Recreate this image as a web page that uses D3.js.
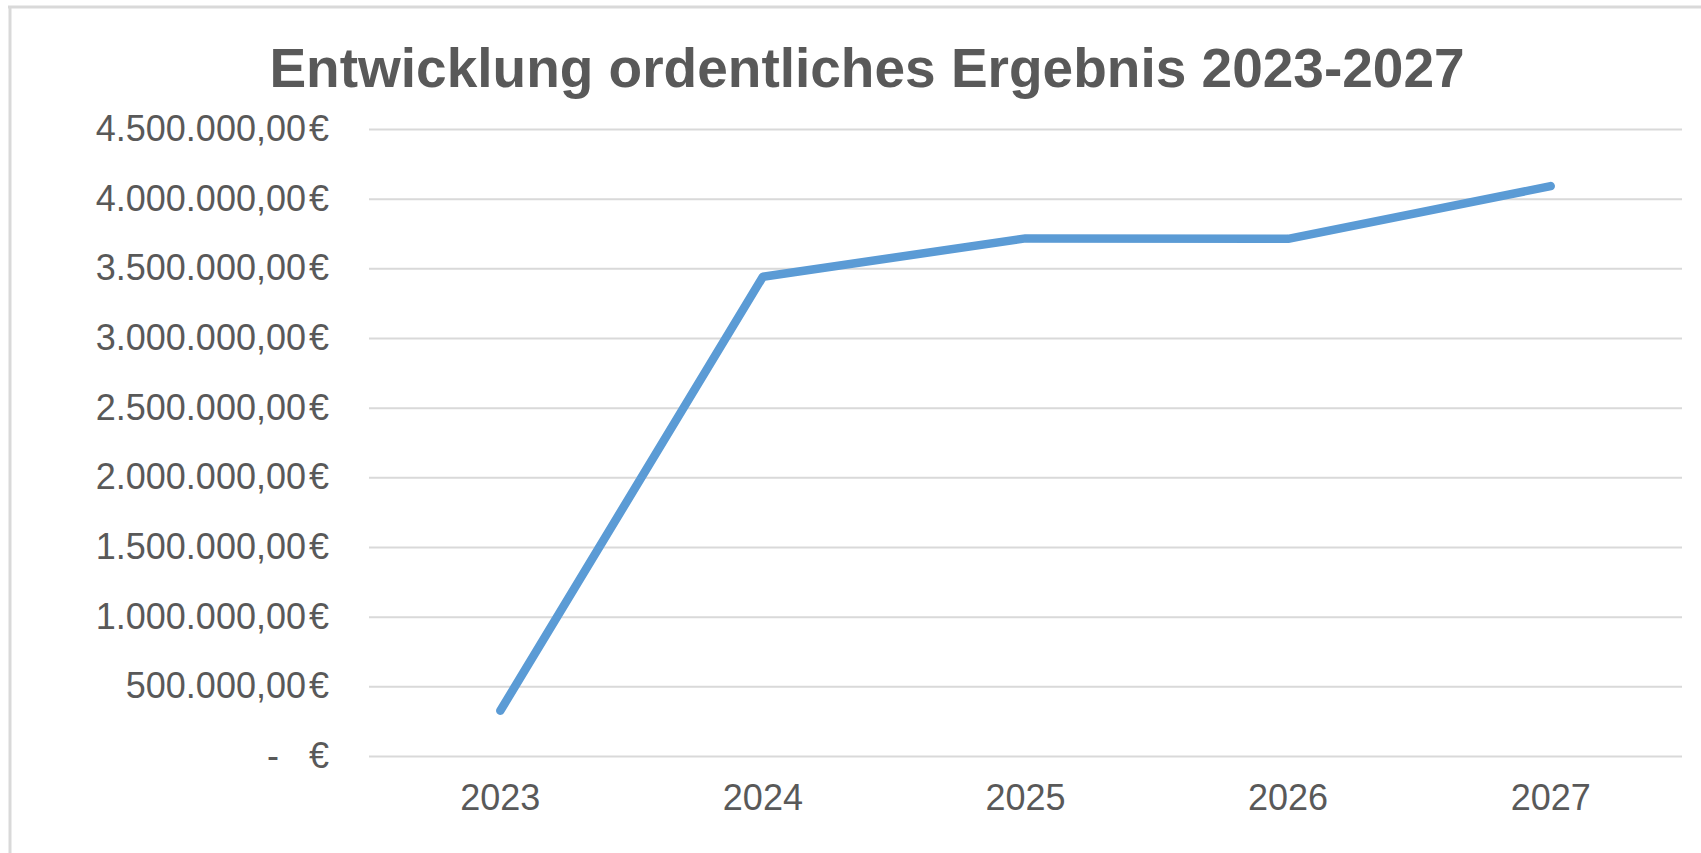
<!DOCTYPE html>
<html lang="de">
  <head>
    <meta charset="UTF-8" />
    <title>Entwicklung ordentliches Ergebnis 2023-2027</title>
    <script src="https://cdn.jsdelivr.net/npm/d3@7/dist/d3.min.js"></script>
    <style>
      body { margin: 0; background: #fff; }
      svg { display: block; font-family: "Liberation Sans", Arial, sans-serif; }
      .tick text { fill: #595959; }
      .y-axis text { white-space: pre; }
    </style>
  </head>

  <body>
    <div id="chart"></div>

    <script>
    // data
    var years = ["2023", "2024", "2025", "2026", "2027"];
    var ergebnis = [325000, 3440000, 3715000, 3712000, 4090000];
    var yTicks = [0, 500000, 1000000, 1500000, 2000000, 2500000, 3000000, 3500000, 4000000, 4500000];
    var chartTitle = "Entwicklung ordentliches Ergebnis 2023-2027";

    var width = 1701;
    var height = 853;
    var margin = { top: 129, right: 19, bottom: 97, left: 369 };
    var plotW = width - margin.left - margin.right;
    var plotH = height - margin.top - margin.bottom;

    var de = d3.formatLocale({ decimal: ",", thousands: ".", grouping: [3], currency: ["", "€"] });
    var fmt = de.format(",.2f");

    var svg = d3.select("#chart")
                .append("svg")
                .attr("width", width)
                .attr("height", height);

    // chart frame (top and left edge visible)
    svg.append("line")
       .attr("x1", 8).attr("x2", width)
       .attr("y1", 7).attr("y2", 7)
       .attr("stroke", "#d9d9d9").attr("stroke-width", 3);
    svg.append("line")
       .attr("x1", 10).attr("x2", 10)
       .attr("y1", 6).attr("y2", height)
       .attr("stroke", "#d9d9d9").attr("stroke-width", 3);

    svg.append("text")
       .attr("x", 867)
       .attr("y", 87)
       .attr("text-anchor", "middle")
       .style("font-size", "55px")
       .style("font-weight", "bold")
       .style("fill", "#595959")
       .text(chartTitle);

    var g = svg.append("g")
               .attr("transform", "translate(" + margin.left + "," + margin.top + ")");

    var xScale = d3.scaleBand()
                   .domain(years)
                   .range([0, plotW]);

    var yScale = d3.scaleLinear()
                   .domain([0, 4500000])
                   .range([plotH, 0]);

    var yAxis = d3.axisLeft(yScale)
                  .tickValues(yTicks)
                  .tickSizeInner(-plotW)
                  .tickSizeOuter(0)
                  .tickPadding(40)
                  .tickFormat(function(d) {
                    return d === 0 ? "-   €" : fmt(d) + "\u200A€";
                  });

    var yG = g.append("g")
              .attr("class", "y-axis")
              .call(yAxis);
    yG.select(".domain").remove();
    yG.selectAll(".tick line")
      .attr("stroke", "#d9d9d9")
      .attr("stroke-width", 2);
    yG.selectAll(".tick text")
      .style("font-size", "36px");

    var xAxis = d3.axisBottom(xScale)
                  .tickSize(0)
                  .tickPadding(28);

    var xG = g.append("g")
              .attr("class", "x-axis")
              .attr("transform", "translate(0," + plotH + ")")
              .call(xAxis);
    xG.select(".domain").remove();
    xG.selectAll(".tick text")
      .style("font-size", "36px");

    var line = d3.line()
                 .x(function(d, i) { return xScale(years[i]) + xScale.bandwidth() / 2; })
                 .y(function(d) { return yScale(d); });

    g.append("path")
     .datum(ergebnis)
     .attr("d", line)
     .attr("fill", "none")
     .attr("stroke", "#5b9bd5")
     .attr("stroke-width", 8.5)
     .attr("stroke-linecap", "round")
     .attr("stroke-linejoin", "round");
    </script>
  </body>
</html>
